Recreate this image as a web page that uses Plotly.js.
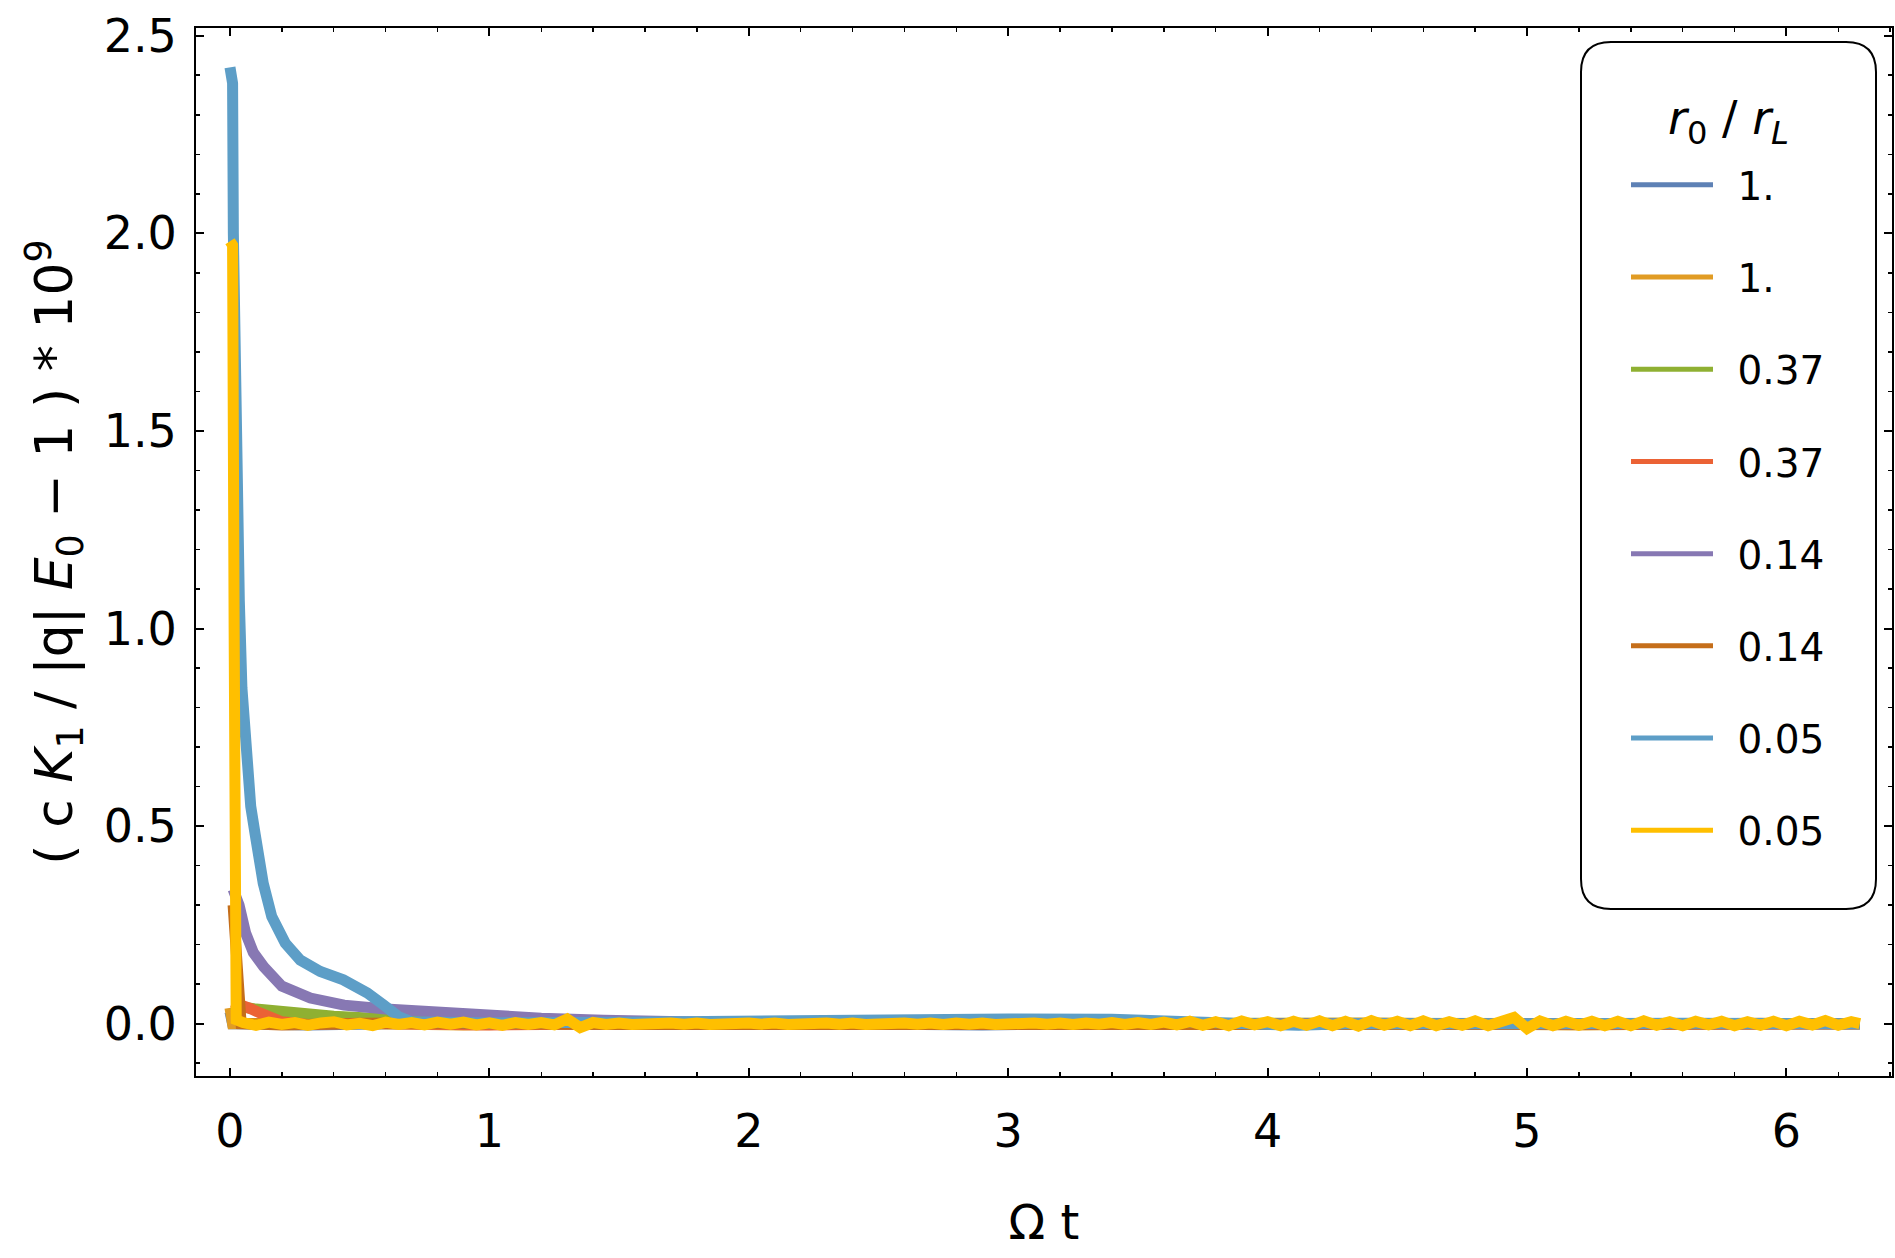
<!DOCTYPE html>
<html>
<head>
<meta charset="utf-8">
<script src="https://cdn.plot.ly/plotly-3.0.1.min.js"></script>
<style>html,body{margin:0;padding:0;background:#fff;}#chart{width:1895px;height:1258px;}</style>
</head>
<body>
<div id="chart"></div>
<script>
// ---- data ----
const legendTitle = "<i>r</i><sub>0</sub> / <i>r<sub>L</sub></i>";
const seriesNames = ["1.", "1.", "0.37", "0.37", "0.14", "0.14", "0.05", "0.05"];
const seriesColors = ["#5E81B5", "#E19C24", "#8FB032", "#EB6235", "#8778B3", "#C56E1A", "#5D9EC7", "#FFBF00"];

const t1 = [0, 0.004, 0.01, 0.3, 0.8, 1.4, 2.1, 2.9, 3.6, 4.3, 5.1, 5.8, 6.283];
const y1 = [0.03, 0.01, 0.0, -0.003, 0.002, -0.002, 0.001, -0.003, 0.002, -0.002, 0.001, -0.002, 0.0];

const t2 = [0, 0.004, 0.01, 0.35, 0.9, 1.5, 2.2, 3.0, 3.7, 4.4, 5.2, 5.9, 6.283];
const y2 = [0.04, 0.01, 0.0, 0.002, -0.003, 0.002, -0.002, 0.003, -0.001, 0.002, -0.003, 0.001, 0.0];

const t3 = [0.008, 0.02, 0.04, 0.1, 0.2, 0.3, 0.4, 0.55, 0.7, 0.9, 1.2, 1.6, 2.0, 3.0, 4.0, 5.0, 6.283];
const y3 = [0.05, 0.046, 0.043, 0.037, 0.030, 0.024, 0.019, 0.014, 0.010, 0.007, 0.004, 0.002, 0.001, 0.0, 0.001, -0.001, 0.0];

const t4 = [0.008, 0.02, 0.039, 0.08, 0.12, 0.16, 0.2, 0.3, 0.5, 1.0, 2.0, 3.0, 4.0, 5.0, 6.283];
const y4 = [0.055, 0.053, 0.05, 0.038, 0.026, 0.014, 0.005, -0.002, 0.001, -0.003, 0.002, -0.002, 0.001, -0.002, 0.0];

const t5 = [0.012, 0.02, 0.035, 0.06, 0.09, 0.13, 0.2, 0.31, 0.44, 0.6, 0.85, 0.92, 1.2, 1.44, 1.7, 2.0, 2.5, 3.5, 4.5, 5.5, 6.283];
const y5 = [0.34, 0.33, 0.30, 0.23, 0.18, 0.144, 0.095, 0.065, 0.047, 0.037, 0.027, 0.022, 0.014, 0.009, 0.004, 0.002, 0.0, 0.001, -0.001, 0.001, 0.0];

const t6 = [0.012, 0.022, 0.034, 0.04, 0.043, 0.2, 0.6, 1.5, 3.0, 4.5, 6.283];
const y6 = [0.3, 0.22, 0.13, 0.05, 0.0, -0.003, 0.002, -0.002, 0.001, -0.002, 0.0];

const t7 = [0, 0.004, 0.01, 0.013, 0.016, 0.023, 0.03, 0.036, 0.046, 0.058, 0.065, 0.08, 0.097, 0.128, 0.161, 0.213, 0.271, 0.348, 0.437, 0.529, 0.593, 0.65, 0.7, 1.0, 1.5, 2.0, 2.5, 3.0, 3.4, 3.7, 4.0, 4.12, 4.3, 4.71, 5.0, 5.6, 6.283];
const y7 = [2.42, 2.41, 2.38, 2.0, 1.8, 1.33, 1.15, 1.07, 0.85, 0.73, 0.65, 0.55, 0.48, 0.356, 0.271, 0.204, 0.161, 0.132, 0.111, 0.078, 0.047, 0.018, 0.005, 0.002, 0.004, 0.008, 0.011, 0.012, 0.011, 0.004, 0.0, -0.004, 0.0, -0.004, 0.0, 0.001, 0.0];

const t8 = [0, 0.01, 0.016, 0.02, 0.024,
  0.05, 0.10, 0.15, 0.20, 0.25, 0.30, 0.35, 0.40, 0.45, 0.50, 0.55, 0.60, 0.65, 0.70, 0.75, 0.80, 0.85, 0.90, 0.95, 1.00,
  1.05, 1.10, 1.15, 1.20, 1.25, 1.30, 1.35, 1.40, 1.45, 1.50, 1.55, 1.60, 1.65, 1.70, 1.75, 1.80, 1.85, 1.90, 1.95, 2.00,
  2.05, 2.10, 2.15, 2.20, 2.25, 2.30, 2.35, 2.40, 2.45, 2.50, 2.55, 2.60, 2.65, 2.70, 2.75, 2.80, 2.85, 2.90, 2.95, 3.00,
  3.05, 3.10, 3.15, 3.20, 3.25, 3.30, 3.35, 3.40, 3.45, 3.50, 3.55, 3.60, 3.65, 3.70, 3.75, 3.80, 3.85, 3.90, 3.95, 4.00,
  4.05, 4.10, 4.15, 4.20, 4.25, 4.30, 4.35, 4.40, 4.45, 4.50, 4.55, 4.60, 4.65, 4.70, 4.75, 4.80, 4.85, 4.90, 4.95, 5.00,
  5.05, 5.10, 5.15, 5.20, 5.25, 5.30, 5.35, 5.40, 5.45, 5.50, 5.55, 5.60, 5.65, 5.70, 5.75, 5.80, 5.85, 5.90, 5.95, 6.00,
  6.05, 6.10, 6.15, 6.20, 6.25, 6.283];
const y8 = [1.98, 1.97, 1.0, 0.3, 0.01,
  0.003, -0.004, 0.004, -0.002, 0.003, -0.004, 0.002, 0.005, -0.003, 0.001, -0.005, 0.004, -0.002, 0.003, -0.003, 0.004, -0.001, 0.004, -0.003, 0.002,
  -0.004, 0.003, -0.002, 0.003, -0.003, 0.012, -0.010, 0.003, -0.002, 0.002, -0.002, 0.001, -0.002, 0.002, -0.001, 0.002, -0.002, 0.001, -0.002, 0.002,
  -0.001, 0.002, -0.002, 0.001, -0.002, 0.002, -0.001, 0.002, -0.002, 0.001, -0.002, 0.002, -0.001, 0.002, -0.002, 0.002, -0.001, 0.002, -0.002, 0.001,
  -0.002, 0.002, -0.001, 0.002, -0.002, 0.002, -0.001, 0.003, -0.002, 0.003, -0.002, 0.004, -0.003, 0.006, -0.004, 0.005, -0.005, 0.007, -0.003, 0.005,
  -0.005, 0.006, -0.004, 0.007, -0.005, 0.006, -0.006, 0.008, -0.004, 0.006, -0.005, 0.007, -0.005, 0.005, -0.004, 0.007, -0.005, 0.006, 0.016, -0.012,
  0.007, -0.005, 0.006, -0.004, 0.006, -0.005, 0.006, -0.005, 0.007, -0.004, 0.005, -0.005, 0.006, -0.003, 0.006, -0.005, 0.005, -0.004, 0.006, -0.005,
  0.006, -0.003, 0.008, -0.004, 0.005, 0.0];

const seriesT = [t1, t2, t3, t4, t5, t6, t7, t8];
const seriesY = [y1, y2, y3, y4, y5, y6, y7, y8];

const xTickVals = [0, 1, 2, 3, 4, 5, 6];
const xTickText = ["0", "1", "2", "3", "4", "5", "6"];
const yTickVals = [0, 0.5, 1.0, 1.5, 2.0, 2.5];
const yTickText = ["0.0", "0.5", "1.0", "1.5", "2.0", "2.5"];

// ---- layout geometry (pixels) ----
const W = 1895, H = 1258;
const M = {l: 196, r: 3, t: 28, b: 182};
const PW = W - M.l - M.r, PH = H - M.t - M.b;
const px2x = X => (X - M.l) / PW;
const px2y = Y => (H - M.b - Y) / PH;

const FONT = "DejaVu Sans, Liberation Sans, Arial, sans-serif";

const traces = seriesT.map((t, i) => ({
  type: "scatter",
  mode: "lines",
  x: t,
  y: seriesY[i],
  name: "\u2002" + seriesNames[i],
  legendgroup: "g" + i,
  line: {color: seriesColors[i], width: 11},
  hoverinfo: "skip"
}));

// rounded legend frame
const bx0 = 1581, bx1 = 1876, by0 = 42, by1 = 909, rad = 30;
const rx = rad / PW, ry = rad / PH;
const X0 = px2x(bx0), X1 = px2x(bx1), Y0 = px2y(by0), Y1 = px2y(by1);
const framePath =
  `M ${X0 + rx} ${Y0} L ${X1 - rx} ${Y0} Q ${X1} ${Y0} ${X1} ${Y0 - ry} ` +
  `L ${X1} ${Y1 + ry} Q ${X1} ${Y1} ${X1 - rx} ${Y1} ` +
  `L ${X0 + rx} ${Y1} Q ${X0} ${Y1} ${X0} ${Y1 + ry} ` +
  `L ${X0} ${Y0 - ry} Q ${X0} ${Y0} ${X0 + rx} ${Y0} Z`;

const axisCommon = {
  showline: true, linecolor: "#000", linewidth: 2, mirror: "allticks",
  ticks: "inside", ticklen: 8, tickwidth: 2, tickcolor: "#000",
  showgrid: false, zeroline: false,
  tickfont: {family: FONT, size: 46, color: "#000"}
};

const layout = {
  width: W, height: H,
  margin: M,
  paper_bgcolor: "#fff", plot_bgcolor: "#fff",
  showlegend: true,
  font: {family: FONT, color: "#000"},
  xaxis: Object.assign({}, axisCommon, {
    range: [-0.131, 6.407],
    tickmode: "array", tickvals: xTickVals, ticktext: xTickText,
    minor: {dtick: 0.2, tick0: 0, ticks: "inside", ticklen: 4, tickwidth: 1.5, tickcolor: "#000"},
    ticklabelstandoff: 14,
    title: {text: "Ω t", font: {family: FONT, size: 48, color: "#000"}, standoff: 48}
  }),
  yaxis: Object.assign({}, axisCommon, {
    range: [-0.1323, 2.5195],
    tickmode: "array", tickvals: yTickVals, ticktext: yTickText,
    minor: {dtick: 0.1, tick0: 0, ticks: "inside", ticklen: 4, tickwidth: 1.5, tickcolor: "#000"},
    ticklabelstandoff: 8,
    title: {text: "( c <i>K</i><sub>1</sub> / |q| <i>E</i><sub>0</sub> − 1 ) * 10<sup>9</sup>", font: {family: FONT, size: 52, color: "#000"}, standoff: 14}
  }),
  legend: {
    x: px2x(1626), xanchor: "left",
    y: px2y(153), yanchor: "top",
    bgcolor: "rgba(0,0,0,0)", borderwidth: 0,
    itemwidth: 82, itemsizing: "constant",
    traceorder: "grouped", tracegroupgap: 38.5,
    font: {family: FONT, size: 39, color: "#000"}
  },
  annotations: [{
    xref: "paper", yref: "paper", x: px2x(1728), y: px2y(121),
    xanchor: "center", yanchor: "middle", showarrow: false,
    text: legendTitle, font: {family: FONT, size: 46, color: "#000"}
  }],
  shapes: [{
    type: "path", xref: "paper", yref: "paper", path: framePath,
    line: {color: "#000", width: 2}, fillcolor: "#fff", layer: "above"
  }]
};

Plotly.newPlot("chart", traces, layout, {staticPlot: true, displayModeBar: false});
</script>
</body>
</html>
